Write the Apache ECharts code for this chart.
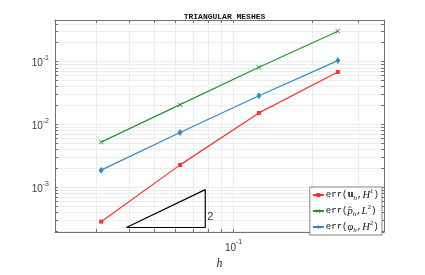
<!DOCTYPE html>
<html><head><meta charset="utf-8">
<script src="https://cdn.jsdelivr.net/npm/echarts@6/dist/echarts.min.js"></script>
<style>html,body{margin:0;padding:0;background:#fff}#c{width:425px;height:275px}</style>
</head><body><div id="c"></div>
<script>
// ---- data ----
const h = [1/32, 1/16, 1/8, 1/4];
const errU = [2.85e-4, 2.28e-3, 1.53e-2, 6.85e-2];
const errP = [5.25e-3, 2.07e-2, 8.15e-2, 3.05e-1];
const errPhi = [1.88e-3, 7.45e-3, 2.87e-2, 1.04e-1];
const triX = [0.039, 0.078, 0.078, 0.039];
const triY = [2.3e-4, 2.3e-4, 9.2e-4, 2.3e-4];
const slopeText = '2';
const slopeLabelAt = [0.078, 3.4e-4];
const seriesNames = ['errU', 'errP', 'errPhi'];
const legendLabels = {
  errU: '{m|err(}{b|u}{sub|h}{m|,}{i|H}{sup|1}{m|)}',
  errP: '{m|err(}{i|p\u0302}{sub|h}{m|,}{i|L}{sup|2}{m|)}',
  errPhi: '{m|err(}{i|\u03c6}{sub|h}{m|,}{i|H}{sup|2}{m|)}'
};
const xRange = [1/48, 0.375];
const yRange = [1.95e-4, 0.46];
const xTicks = [0.03,0.04,0.05,0.06,0.07,0.08,0.09,0.1,0.2,0.3];
const xLabelTicks = [0.1];
const yTicks = [2e-4,3e-4,4e-4,5e-4,6e-4,7e-4,8e-4,9e-4,
  1e-3,2e-3,3e-3,4e-3,5e-3,6e-3,7e-3,8e-3,9e-3,
  1e-2,2e-2,3e-2,4e-2,5e-2,6e-2,7e-2,8e-2,9e-2,
  0.1,0.2,0.3,0.4];
const yLabelTicks = [1e-3, 1e-2, 1e-1];
const titleText = 'TRIANGULAR MESHES';
const xName = 'h';

const colors = ['#ff3030', '#22962a', '#2f8acc'];
const crossPath = 'path://M0,1L1,0L5,4L9,0L10,1L6,5L10,9L9,10L5,6L1,10L0,9L4,5Z';

const chart = echarts.init(document.getElementById('c'), null, {renderer: 'canvas'});
const pw = (v) => { const e = Math.round(Math.log10(v)); return '{b|10}{s|' + e + '}'; };
const labRich = {
  b: {fontFamily: 'Liberation Sans', fontSize: 10, color: '#3a3a3a', lineHeight: 14, verticalAlign: 'bottom'},
  s: {fontFamily: 'Liberation Sans', fontSize: 7, color: '#3a3a3a', lineHeight: 14, verticalAlign: 'top'}
};
const axisLineStyle = {color: '#707070', width: 1};
const gridLine = {show: true, lineStyle: {color: '#ececec', width: 1}};

function mk(name, data, color, symbol, size) {
  return {
    name: name, type: 'line', data: h.map((x, i) => [x, data[i]]),
    itemStyle: {color: color}, lineStyle: {color: color, width: 1.2},
    symbol: symbol, symbolSize: size, showSymbol: true, z: 4
  };
}

chart.setOption({
  animation: false,
  title: {
    text: titleText, left: 219.5, top: 8, textAlign: 'center',
    textStyle: {fontFamily: 'Liberation Mono', fontSize: 8, fontWeight: 'bold', color: '#111'}
  },
  grid: {left: 55, right: 41, top: 20, bottom: 37, containLabel: false},
  legend: {
    data: seriesNames, orient: 'vertical', right: 43, top: 187,
    backgroundColor: '#fff', borderColor: '#666', borderWidth: 0.8,
    padding: [1, 3, 1, 2], itemGap: 2, itemWidth: 11, itemHeight: 5,
    formatter: (n) => legendLabels[n],
    textStyle: {
      padding: [0, 0, 0, -3],
      rich: {
        m: {fontFamily: 'Liberation Mono', fontSize: 9, color: '#111', lineHeight: 14},
        b: {fontFamily: 'DejaVu Serif', fontWeight: 'bold', fontSize: 8.5, color: '#111', lineHeight: 14},
        i: {fontFamily: 'Liberation Serif', fontStyle: 'italic', fontSize: 10.5, color: '#111', lineHeight: 14},
        sub: {fontFamily: 'Liberation Serif', fontStyle: 'italic', fontSize: 7, color: '#111', lineHeight: 10, verticalAlign: 'bottom', padding: [4, 0, 0, 0]},
        sup: {fontFamily: 'Liberation Serif', fontSize: 7, color: '#111', lineHeight: 10, verticalAlign: 'top', padding: [0, 0, 4, 0]}
      }
    }
  },
  xAxis: [{
    type: 'log', logBase: 10, min: xRange[0], max: xRange[1],
    name: xName, nameLocation: 'middle', nameGap: 26,
    nameTextStyle: {fontFamily: 'Liberation Serif', fontStyle: 'italic', fontSize: 12, color: '#222'},
    axisLine: {show: true, lineStyle: axisLineStyle},
    axisTick: {show: true, inside: true, length: 3, customValues: xTicks, lineStyle: axisLineStyle},
    axisLabel: {customValues: xLabelTicks, formatter: pw, rich: labRich, margin: 7},
    splitLine: gridLine, minorTick: {show: false}, minorSplitLine: {show: false}
  }, {
    type: 'log', logBase: 10, min: xRange[0], max: xRange[1], position: 'top',
    axisLine: {show: true, onZero: false, lineStyle: axisLineStyle},
    axisTick: {show: true, inside: true, length: 3, customValues: xTicks, lineStyle: axisLineStyle},
    axisLabel: {show: false}, splitLine: {show: false}
  }],
  yAxis: [{
    type: 'log', logBase: 10, min: yRange[0], max: yRange[1],
    axisLine: {show: true, lineStyle: axisLineStyle},
    axisTick: {show: true, inside: true, length: 3, customValues: yTicks, lineStyle: axisLineStyle},
    axisLabel: {customValues: yLabelTicks, formatter: pw, rich: labRich, margin: 6},
    splitLine: gridLine
  }, {
    type: 'log', logBase: 10, min: yRange[0], max: yRange[1], position: 'right',
    axisLine: {show: true, onZero: false, lineStyle: axisLineStyle},
    axisTick: {show: true, inside: true, length: 3, customValues: yTicks, lineStyle: axisLineStyle},
    axisLabel: {show: false}, splitLine: {show: false}
  }],
  series: [
    mk(seriesNames[0], errU, colors[0], 'rect', 4),
    mk(seriesNames[1], errP, colors[1], crossPath, 5),
    mk(seriesNames[2], errPhi, colors[2], 'diamond', [5, 7]),
    {
      type: 'line', data: triX.map((x, i) => [x, triY[i]]), symbol: 'none',
      lineStyle: {color: '#000', width: 1.2}, itemStyle: {color: '#000'}, z: 3, silent: true
    },
    {
      type: 'scatter', data: [slopeLabelAt], symbolSize: 0, silent: true,
      label: {show: true, formatter: slopeText, position: 'right', distance: 2,
        fontFamily: 'Liberation Sans', fontSize: 11, color: '#000'}
    }
  ]
});
</script></body></html>
